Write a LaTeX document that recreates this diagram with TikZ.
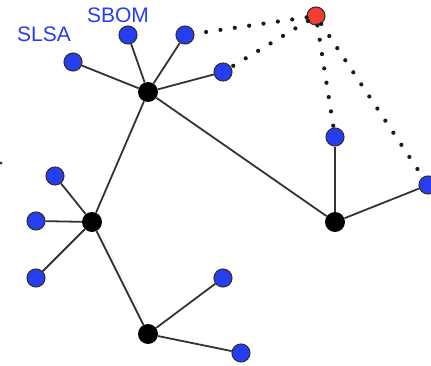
\documentclass[tikz,border=0pt]{standalone}
\usepackage{fontspec}
\setmainfont{Liberation Sans}
\begin{document}
\begin{tikzpicture}[x=1pt,y=-1pt,
  leaf/.style={circle,draw=black!80,line width=1.1pt,fill=leafblue,minimum size=18pt,inner sep=0pt},
  hub/.style={circle,fill=black,minimum size=20pt,inner sep=0pt},
  root/.style={circle,draw=black!80,line width=1.1pt,fill=rootred,minimum size=18pt,inner sep=0pt},
  link/.style={draw=black!80,line width=1.8pt},
  trace/.style={draw=black!90,line width=4.2pt,line cap=round,dash pattern=on 0pt off 14.5pt},
  tag/.style={text=leafblue,font=\fontsize{21}{21}\selectfont,inner sep=0pt}]
\definecolor{leafblue}{RGB}{38,62,240}
\definecolor{rootred}{RGB}{240,62,50}
\useasboundingbox (0,0) rectangle (431,366);

% solid tree edges go underneath the nodes
\coordinate (pa) at (148,92);
\coordinate (pb) at (92,222);
\coordinate (pc) at (148,334);
\coordinate (pd) at (335,222);

% hubs
\node[hub] (ha) at (pa) {};
\node[hub] (hb) at (pb) {};
\node[hub] (hc) at (pc) {};
\node[hub] (hd) at (pd) {};

% leaves
\node[leaf] (a1) at (73,62) {};
\node[leaf] (a2) at (128,35) {};
\node[leaf] (a3) at (185,35) {};
\node[leaf] (a4) at (223,72) {};
\node[leaf] (b1) at (55,176) {};
\node[leaf] (b2) at (36,221) {};
\node[leaf] (b3) at (36,278) {};
\node[leaf] (c1) at (223,278) {};
\node[leaf] (c2) at (241,353) {};
\node[leaf] (d1) at (335,137) {};
\node[leaf] (d2) at (428,185) {};
\node[root] (r) at (316,16) {};

% labels
\node[tag] (lslsa) at (44,34) {SLSA};
\node[tag] (lsbom) at (118,15) {SBOM};

% solid tree edges
\foreach \u/\v in {ha/a1,ha/a2,ha/a3,ha/a4,ha/hb,ha/hd,hb/b1,hb/b2,hb/b3,hb/hc,hc/c1,hc/c2,hd/d1,hd/d2}
  \path[link] (\u) -- (\v);

% dotted trace links from the root
\foreach \v in {a3,a4,d1,d2}
  \path[trace] (r) -- (\v);

% small mark at the left edge
\coordinate (edge) at (1,163);
\fill[black!80] (edge) circle (1.6pt);
\end{tikzpicture}
\end{document}
